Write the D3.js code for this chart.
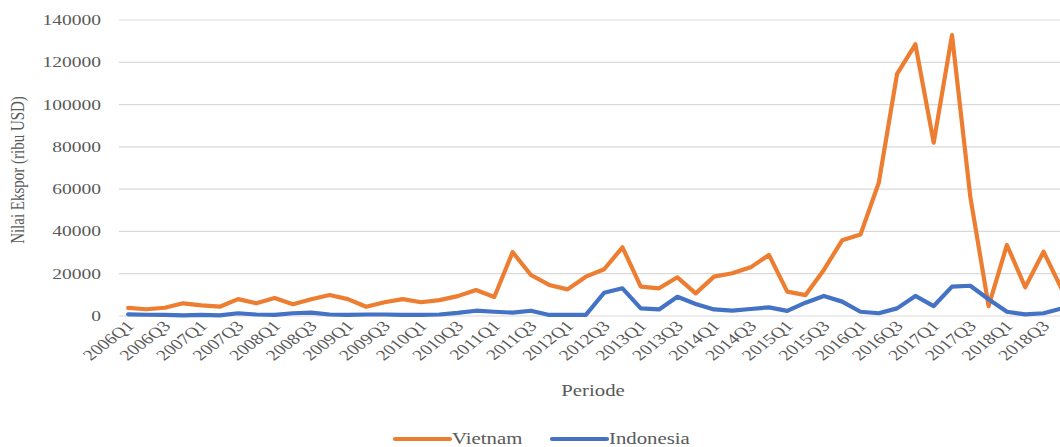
<!DOCTYPE html>
<html>
<head>
<meta charset="utf-8">
<script src="https://cdnjs.cloudflare.com/ajax/libs/d3/7.8.5/d3.min.js"></script>
<style>
  body { margin: 0; background: #fff; overflow: hidden; }
  svg { display: block; font-family: "Liberation Serif", "Times New Roman", serif; }
</style>
</head>
<body>
<svg id="chart" width="1060" height="447"></svg>
<script>
// ---- data (ribu USD, quarterly) ----
const years = d3.range(2006, 2019)
const quarters = years.flatMap(y => [1, 2, 3, 4].map(q => `${y}Q${q}`))

const vietnam = [3800, 3200, 3900, 6000, 5000, 4400, 8000, 6000, 8500, 5600,
  7900, 9900, 8000, 4400, 6500, 8000, 6500, 7500, 9400, 12300,
  9000, 30200, 19400, 14700, 12600, 18600, 22100, 32500, 13900, 13100,
  18300, 10700, 18600, 20200, 23000, 28900, 11500, 9900, 21800, 35800,
  38500, 63000, 114500, 128500, 82000, 132900, 56400, 4700, 33600, 13600,
  30400, 12600]

const indonesia = [800, 600, 500, 300, 500, 300, 1300, 700, 500, 1300,
  1600, 700, 500, 700, 700, 500, 500, 700, 1500, 2500,
  2000, 1600, 2500, 500, 500, 500, 11000, 13100, 3600, 3100,
  9100, 5700, 3100, 2500, 3300, 4100, 2400, 6300, 9500, 6800,
  2000, 1300, 3600, 9500, 4700, 13900, 14300, 7900, 2000, 800,
  1300, 3600]

const yTicks = [0, 20000, 40000, 60000, 80000, 100000, 120000, 140000]
const series = [
  { name: 'Vietnam', values: vietnam, color: '#ED7D31' },
  { name: 'Indonesia', values: indonesia, color: '#4472C4' }
]

//========================== layout ================================
const svg = d3.select('#chart')
const stretch = 1.3   // text in the original is drawn wide

const x = d3.scaleBand().domain(quarters).range([119, 1071])
const y = d3.scaleLinear().domain([0, 140000]).range([316, 20])
const cx = d => x(d) + x.bandwidth() / 2

// gridlines
svg.append('g')
  .selectAll('line')
  .data(yTicks)
  .join('line')
  .attr('x1', 119).attr('x2', 1071)
  .attr('y1', d => y(d)).attr('y2', d => y(d))
  .attr('stroke', '#d9d9d9').attr('stroke-width', 1.2)

// y tick labels
svg.append('g')
  .selectAll('text')
  .data(yTicks)
  .join('text')
  .attr('transform', d => `translate(101,${y(d) + 5}) scale(${stretch},1)`)
  .attr('text-anchor', 'end')
  .attr('font-size', 15)
  .attr('fill', '#595959')
  .text(d => d)

// x tick labels, every second quarter
svg.append('g')
  .selectAll('text')
  .data(quarters.filter((q, i) => i % 2 === 0))
  .join('text')
  .attr('transform', d => `translate(${cx(d) + 7},${327}) scale(${stretch},1) rotate(-45)`)
  .attr('text-anchor', 'end')
  .attr('font-size', 15)
  .attr('fill', '#595959')
  .text(d => d)

// axis titles
svg.append('text')
  .attr('transform', `translate(593,396) scale(${stretch},1)`)
  .attr('text-anchor', 'middle')
  .attr('font-size', 16)
  .attr('fill', '#595959')
  .text('Periode')

svg.append('text')
  .attr('transform', `translate(24,170) scale(${stretch},1) rotate(-90)`)
  .attr('text-anchor', 'middle')
  .attr('font-size', 15)
  .attr('fill', '#595959')
  .text('Nilai Ekspor (ribu USD)')

// lines
const line = d3.line()
  .x((d, i) => cx(quarters[i]))
  .y(d => y(d))

svg.append('g')
  .selectAll('path')
  .data(series)
  .join('path')
  .attr('d', d => line(d.values))
  .attr('fill', 'none')
  .attr('stroke', d => d.color)
  .attr('stroke-width', 4.2)
  .attr('stroke-linejoin', 'round')
  .attr('stroke-linecap', 'round')

// legend
const legend = svg.append('g')
  .selectAll('g')
  .data(series)
  .join('g')
  .attr('transform', (d, i) => `translate(${[395, 552][i]},440)`)

legend.append('line')
  .attr('x1', 0).attr('x2', 55)
  .attr('y1', -1).attr('y2', -1)
  .attr('stroke', d => d.color)
  .attr('stroke-width', 4.2)
  .attr('stroke-linecap', 'round')

legend.append('text')
  .attr('transform', `translate(57,4) scale(${stretch},1)`)
  .attr('font-size', 16)
  .attr('fill', '#595959')
  .text(d => d.name)
</script>
</body>
</html>
